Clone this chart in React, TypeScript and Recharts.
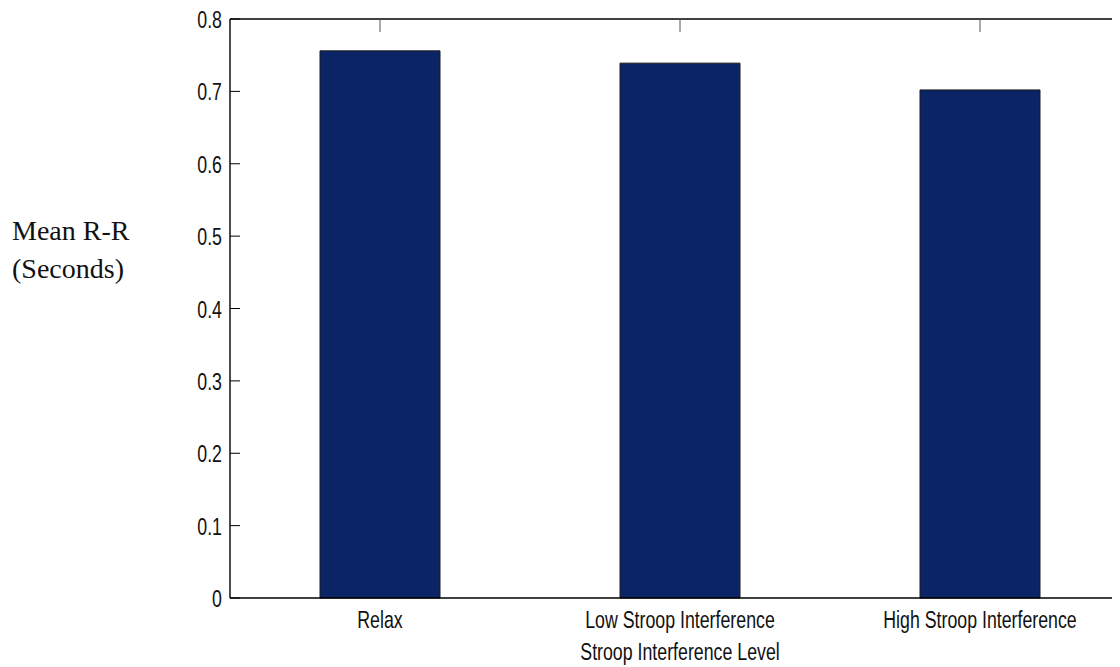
import { Bar, BarChart, Label, XAxis, YAxis } from "recharts";

const conditions = ["Relax", "Low Stroop Interference", "High Stroop Interference"];
const meanRR = [0.756, 0.739, 0.702];
const yTicks = [0, 0.1, 0.2, 0.3, 0.4, 0.5, 0.6, 0.7, 0.8];

const data = conditions.map((name, i) => ({ name, value: meanRR[i] }));

const sansFont = "'Liberation Sans', Arial, sans-serif";
const squeeze = 0.74;

function YTick(props: any) {
  const { x, y, payload } = props;
  return (
    <g>
      <line x1={x} x2={x + 10} y1={y} y2={y} stroke="#000" strokeWidth={1} />
      <text
        transform={`translate(${x - 8},${y + 9}) scale(${squeeze},1)`}
        textAnchor="end"
        fontSize={24}
        fontFamily={sansFont}
        fill="#111"
      >
        {payload.value}
      </text>
    </g>
  );
}

function XTick(props: any) {
  const { x, y, payload } = props;
  return (
    <text
      transform={`translate(${x},${y + 30}) scale(${squeeze},1)`}
      textAnchor="middle"
      fontSize={24}
      fontFamily={sansFont}
      fill="#111"
    >
      {payload.value}
    </text>
  );
}

// short tick marks hanging from the top frame at each category
function TopTick(props: any) {
  const { x, y } = props;
  return <line x1={x} x2={x} y1={y} y2={y + 13} stroke="#555" strokeWidth={1} />;
}

function AxisTitle(props: any) {
  const { x, y, width } = props.viewBox;
  return (
    <text
      transform={`translate(${x + width / 2},${y + 62}) scale(${squeeze},1)`}
      textAnchor="middle"
      fontSize={24}
      fontFamily={sansFont}
      fill="#111"
    >
      Stroop Interference Level
    </text>
  );
}

export default function App() {
  return (
    <div
      style={{
        position: "relative",
        marginTop: -8,
        width: 1112,
        height: 667,
        overflow: "hidden",
        background: "#fff",
      }}
    >
      <div
        style={{
          position: "absolute",
          left: 4,
          top: 212,
          fontFamily: "'Liberation Serif', 'Times New Roman', serif",
          fontSize: 28,
          lineHeight: "38px",
          color: "#111",
          whiteSpace: "nowrap",
        }}
      >
        <div>Mean R-R</div>
        <div>(Seconds)</div>
      </div>
      <BarChart
        width={1127}
        height={667}
        data={data}
        margin={{ top: 18, right: 5, bottom: 0, left: 0 }}
      >
        <XAxis
          dataKey="name"
          height={69}
          tickLine={false}
          tickSize={0}
          tickMargin={0}
          tick={<XTick />}
          axisLine={{ stroke: "#000", strokeWidth: 1.4 }}
          interval={0}
        >
          <Label content={<AxisTitle />} />
        </XAxis>
        <XAxis
          xAxisId="top"
          dataKey="name"
          orientation="top"
          height={1}
          tickLine={false}
          tickSize={0}
          tickMargin={0}
          tick={<TopTick />}
          axisLine={{ stroke: "#000", strokeWidth: 1.4 }}
          interval={0}
        />
        <YAxis
          width={222}
          domain={[0, 0.8]}
          ticks={yTicks}
          tickLine={false}
          tickSize={0}
          tickMargin={0}
          tick={<YTick />}
          axisLine={{ stroke: "#000", strokeWidth: 1.4 }}
          interval={0}
        />
        <Bar
          dataKey="value"
          fill="#0b2466"
          stroke="#1a1a1a"
          strokeWidth={1}
          barSize={120}
          isAnimationActive={false}
        />
      </BarChart>
    </div>
  );
}
